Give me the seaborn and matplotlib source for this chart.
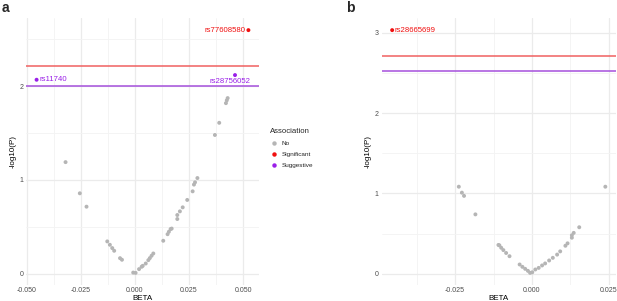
import matplotlib
matplotlib.use("Agg")
import matplotlib.pyplot as plt
from matplotlib.lines import Line2D
import seaborn as sns
import pandas as pd
import numpy as np

# ---------------- data ----------------
# Panel a
a_no_beta = [-0.0321, -0.0255, -0.0224, -0.0128, -0.0116, -0.0105, -0.0096, -0.0069, -0.0060,
             -0.0008, 0.0003, 0.0019, 0.0031, 0.0036, 0.0050, 0.0062, 0.0069, 0.0077, 0.0085,
             0.0131, 0.0151, 0.0157, 0.0165, 0.0170, 0.0196, 0.0196, 0.0208, 0.0221, 0.0242,
             0.0267, 0.0273, 0.0278, 0.0289, 0.0370, 0.0390, 0.0421, 0.0425, 0.0429]
a_no_logp = [1.19, 0.857, 0.714, 0.343, 0.307, 0.272, 0.243, 0.164, 0.147,
             0.010, 0.007, 0.047, 0.072, 0.082, 0.107, 0.143, 0.165, 0.190, 0.214,
             0.350, 0.420, 0.446, 0.475, 0.48, 0.582, 0.625, 0.664, 0.707, 0.786,
             0.878, 0.950, 0.974, 1.020, 1.480, 1.610, 1.820, 1.850, 1.874]
a_sig_beta = [0.0525]
a_sig_logp = [2.60]
a_sig_label = ["rs77608580"]
a_sug_beta = [-0.0455, 0.0463]
a_sug_logp = [2.07, 2.12]
a_sug_label = ["rs11740", "rs28756052"]
a_sig_line = 2.22
a_sug_line = 2.00

# Panel b
b_no_beta = [-0.0238, -0.0228, -0.0221, -0.0184,
             -0.0109, -0.0106, -0.0100, -0.0093, -0.0084, -0.0073,
             -0.0040, -0.0031, -0.0022, -0.0013, -0.0006, 0.0001, 0.0011, 0.0022,
             0.0033, 0.0043, 0.0056, 0.0068, 0.0082, 0.0092, 0.0109, 0.0116,
             0.0130, 0.0130, 0.0136, 0.0154, 0.0239]
b_no_logp = [1.084, 1.010, 0.970, 0.740,
             0.360, 0.355, 0.325, 0.296, 0.260, 0.220,
             0.117, 0.088, 0.063, 0.038, 0.013, 0.020, 0.055, 0.075,
             0.105, 0.130, 0.167, 0.200, 0.240, 0.280, 0.350, 0.380,
             0.450, 0.480, 0.510, 0.580, 1.084]
b_sig_beta = [-0.0455]
b_sig_logp = [3.03]
b_sig_label = ["rs28665699"]
b_sig_line = 2.71
b_sug_line = 2.525

categories = ["No", "Significant", "Suggestive"]
palette = {"No": "#B5B5B5", "Significant": "#F01010", "Suggestive": "#9A1FE8"}
line_colors = {"Significant": "#F06060", "Suggestive": "#A550DC"}

a_xticks = [-0.050, -0.025, 0.000, 0.025, 0.050]
a_yticks = [0, 1, 2]
b_xticks = [-0.025, 0.000, 0.025]
b_yticks = [0, 1, 2, 3]

# ---------------- style ----------------
sns.set_theme(style="white")
plt.rcParams["font.family"] = ["Liberation Sans", "DejaVu Sans"]
plt.rcParams["axes.unicode_minus"] = False

W, H = 617, 301
fig = plt.figure(figsize=(W / 100, H / 100), dpi=100)


def px_rect(x0, x1, y0, y1):
    return [x0 / W, 1 - y1 / H, (x1 - x0) / W, (y1 - y0) / H]


def make_df(nb, nl, sb, sl, gb, gl):
    return pd.DataFrame({
        "BETA": list(nb) + list(sb) + list(gb),
        "logp": list(nl) + list(sl) + list(gl),
        "Association": ["No"] * len(nb) + ["Significant"] * len(sb) + ["Suggestive"] * len(gb),
    })


def style_axes(ax, xticks, yticks):
    xmin, xmax = ax.get_xlim()
    ymin, ymax = ax.get_ylim()
    ax.set_xticks(xticks)
    ax.set_yticks(yticks)
    ax.set_xticklabels([f"{t:.3f}" for t in xticks])
    ax.set_yticklabels([str(t) for t in yticks])
    minor_x = [(xticks[i] + xticks[i + 1]) / 2 for i in range(len(xticks) - 1)]
    step = xticks[1] - xticks[0]
    minor_x = [xticks[0] - step / 2] + minor_x + [xticks[-1] + step / 2]
    minor_y = [(yticks[i] + yticks[i + 1]) / 2 for i in range(len(yticks) - 1)] + [yticks[-1] + 0.5]
    ax.set_xticks(minor_x, minor=True)
    ax.set_yticks(minor_y, minor=True)
    ax.grid(True, which="major", color="#EBEBEB", lw=0.9, zorder=0)
    ax.grid(True, which="minor", color="#F3F3F3", lw=0.6, zorder=0)
    ax.set_axisbelow(True)
    ax.set_xlim(xmin, xmax)
    ax.set_ylim(ymin, ymax)
    for s in ax.spines.values():
        s.set_visible(False)
    ax.tick_params(which="both", length=0, labelsize=5, labelcolor="#4D4D4D", pad=2)
    ax.tick_params(axis="x", which="both", pad=1.8)
    ax.set_xlabel("BETA", fontsize=5.8, labelpad=0, color="black")
    ax.set_ylabel("-log10(P)", fontsize=5.8, labelpad=2, color="black")


def draw_panel(ax, df, sig_line, sug_line):
    sns.scatterplot(data=df, x="BETA", y="logp", hue="Association", hue_order=categories,
                    palette=palette, s=8, linewidth=0, legend=False, ax=ax, zorder=3)
    ax.axhline(sig_line, color=line_colors["Significant"], lw=1.1, zorder=2)
    ax.axhline(sug_line, color=line_colors["Suggestive"], lw=1.1, zorder=2)


# Panel a
ax_a = fig.add_axes(px_rect(26, 259, 18, 285))
df_a = make_df(a_no_beta, a_no_logp, a_sig_beta, a_sig_logp, a_sug_beta, a_sug_logp)
draw_panel(ax_a, df_a, a_sig_line, a_sug_line)
style_axes(ax_a, a_xticks, a_yticks)
px = 0.72  # points per pixel
ax_a.annotate(a_sig_label[0], (a_sig_beta[0], a_sig_logp[0]), xytext=(-2.5 * px, 0),
              textcoords="offset points", ha="right", va="center", fontsize=5.6,
              color=palette["Significant"], zorder=4)
ax_a.annotate(a_sug_label[0], (a_sug_beta[0], a_sug_logp[0]), xytext=(2.5 * px, 0),
              textcoords="offset points", ha="left", va="center", fontsize=5.6,
              color=palette["Suggestive"], zorder=4)
ax_a.annotate(a_sug_label[1], (a_sug_beta[1], a_sug_logp[1]), xytext=(-5.5 * px, -6 * px),
              textcoords="offset points", ha="center", va="center", fontsize=5.6,
              color=palette["Suggestive"], zorder=4)

# Panel b
ax_b = fig.add_axes(px_rect(381.5, 616, 18, 285))
df_b = make_df(b_no_beta, b_no_logp, b_sig_beta, b_sig_logp, [], [])
draw_panel(ax_b, df_b, b_sig_line, b_sug_line)
style_axes(ax_b, b_xticks, b_yticks)
ax_b.annotate(b_sig_label[0], (b_sig_beta[0], b_sig_logp[0]), xytext=(2.5 * px, 0),
              textcoords="offset points", ha="left", va="center", fontsize=5.6,
              color=palette["Significant"], zorder=4)

# Legend
handles = [Line2D([], [], marker="o", ls="", markersize=3.2, markeredgewidth=0,
                  color=palette[c]) for c in categories]
leg = fig.legend(handles, categories, title="Association", loc="upper left",
                 bbox_to_anchor=(266 / W, 1 - 124 / H), frameon=False, fontsize=4.6,
                 title_fontsize=5.6, handlelength=1.0, handletextpad=0.8,
                 labelspacing=0.85, borderpad=0.2)
leg._legend_box.align = "left"

# Panel labels
fig.text(2 / W, 1 - 1 / H, "a", fontsize=10, fontweight="bold", ha="left", va="top")
fig.text(346 / W, 1 - 1 / H, "b", fontsize=10, fontweight="bold", ha="left", va="top")

fig.savefig("out.png", dpi=100)
